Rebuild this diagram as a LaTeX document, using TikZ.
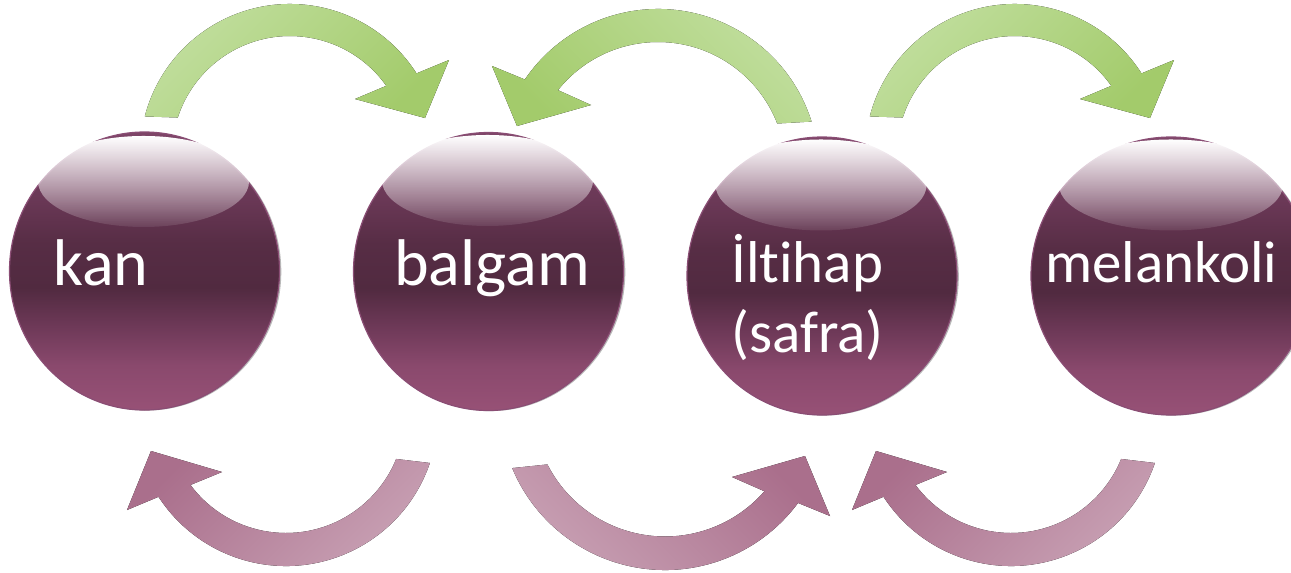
\documentclass[tikz,border=0pt]{standalone}
\usepackage{fontspec}
\setmainfont{Carlito}[Ligatures={NoCommon,NoRare,NoDiscretionary}]
\usetikzlibrary{shapes.geometric,calc,fadings}

\definecolor{sphB}{HTML}{975176}
\definecolor{sphBb}{HTML}{8A496D}
\definecolor{sphMa}{HTML}{6E3958}
\definecolor{sphD}{HTML}{512A40}
\definecolor{sphMb}{HTML}{572D45}
\definecolor{sphTb}{HTML}{6A3856}
\definecolor{sphT}{HTML}{7E4568}
\definecolor{sphEdge}{HTML}{8A4D74}
\definecolor{gLight}{HTML}{C2DFA0}
\definecolor{gDark}{HTML}{A3CB6B}
\definecolor{pDark}{HTML}{AA6F8C}
\definecolor{pLight}{HTML}{C9A2B5}

\pgfdeclareverticalshading{sphshade}{100bp}{color(0bp)=(sphB); color(25bp)=(sphB); color(33bp)=(sphBb); color(40bp)=(sphMa); color(47bp)=(sphD); color(55bp)=(sphMb); color(63bp)=(sphTb); color(75bp)=(sphT); color(100bp)=(sphT)}

\tikzfading[name=hlfade, top color=transparent!0, middle color=transparent!45, bottom color=transparent!92]

\begin{document}
\begin{tikzpicture}[x=1pt,y=1pt,
  sphere/.style={ellipse, minimum width=270pt, minimum height=278pt, inner sep=0pt,
    shade, shading=sphshade, draw=sphEdge, line width=1.2pt},
  sphshadow/.style={fill=gray!55},
  gloss/.style={fill=white, path fading=hlfade},
  lbl/.style={text=white, inner sep=0pt, anchor=base west, font=\fontsize{66}{70}\selectfont},
  lblsmall/.style={lbl, font=\fontsize{59}{64}\selectfont},
  garrowA/.style={top color=gLight, bottom color=gDark, shading angle=45, draw=none},
  garrowB/.style={top color=gLight, bottom color=gDark, shading angle=-45, draw=none},
  parrowA/.style={top color=pDark, bottom color=pLight, shading angle=45, draw=none},
  parrowB/.style={top color=pDark, bottom color=pLight, shading angle=-45, draw=none}]

\path[use as bounding box, clip] (0,0) rectangle (1291,-573);

% ---------- spheres ----------
\foreach \cx/\cy/\w in {144.5/-271/270, 488.5/-271.5/270, 822/-276/270, 1171/-276/280}{
  \fill[sphshadow] (\cx+1.8,\cy-0.6) ellipse[x radius=\w/2, y radius=139];
}
\node[sphere] (kan) at (144.5,-271) {};
\node[sphere] (balgam) at (488.5,-271.5) {};
\node[sphere] (iltihap) at (822,-276) {};
\node[sphere, minimum width=280pt] (melankoli) at (1171,-276) {};

\fill[gloss] ($(kan.center)+(-1,89.5)$) ellipse[x radius=105.5, y radius=45.5];
\fill[gloss] ($(balgam.center)+(-1,91)$) ellipse[x radius=105.5, y radius=45.5];
\fill[gloss] ($(iltihap.center)+(-1,91)$) ellipse[x radius=105.5, y radius=45.5];
\fill[gloss] ($(melankoli.center)+(0,91)$) ellipse[x radius=112, y radius=45.5];

% ---------- labels ----------
\node[lbl] (tkan) at (53,-285) {kan};
\node[lbl] (tbalgam) at (394,-285) {balgam};
\node[lblsmall] (tilt) at (731,-282) {İltihap};
\node[lblsmall] (tsafra) at (731,-352) {(safra)};
\node[lblsmall, font=\fontsize{59}{64}\selectfont] (tmel) at (1045,-282) {melankoli};

% ---------- arrow centres ----------
\coordinate (g1c) at (290,-154);
\coordinate (g2c) at (658,-170);
\coordinate (g3c) at (1015,-154);
\coordinate (p1c) at (286,-414);
\coordinate (p2c) at (665,-404.5);
\coordinate (p3c) at (1011,-414);

% green top arrows
\fill[garrowA] ($(g1c)+(165.5:150)$) arc[start angle=165.5, end angle=32.5, radius=150]
  -- (449,-60) -- (425,-118) -- (355,-99)
  -- ($(g1c)+(35.3:118)$) arc[start angle=35.3, end angle=162, radius=118] -- cycle;

\fill[garrowB] ($(g2c)+(17.5:161)$) arc[start angle=17.5, end angle=145.8, radius=161]
  -- (492,-66) -- (517,-126) -- (591,-105)
  -- ($(g2c)+(141.4:128)$) arc[start angle=141.4, end angle=21.3, radius=128] -- cycle;

\fill[garrowA] ($(g3c)+(165.5:150)$) arc[start angle=165.5, end angle=32.5, radius=150]
  -- (1174,-60) -- (1150,-118) -- (1080,-99)
  -- ($(g3c)+(35.3:118)$) arc[start angle=35.3, end angle=162, radius=118] -- cycle;

% purple bottom arrows
\fill[parrowA] ($(p1c)+(-18.8:152)$) arc[start angle=-18.8, end angle=-147, radius=152]
  -- (127,-510) -- (151,-451) -- (222,-472)
  -- ($(p1c)+(-143.4:119)$) arc[start angle=-143.4, end angle=-22.2, radius=119] -- cycle;

\fill[parrowB] ($(p2c)+(-157.4:165.5)$) arc[start angle=-157.4, end angle=-36.5, radius=165.5]
  -- (830,-516) -- (805,-456) -- (732,-477)
  -- ($(p2c)+(-41.1:132)$) arc[start angle=-41.1, end angle=-153, radius=132] -- cycle;

\fill[parrowA] ($(p3c)+(-18.8:152)$) arc[start angle=-18.8, end angle=-147, radius=152]
  -- (852,-510) -- (876,-451) -- (947,-472)
  -- ($(p3c)+(-143.4:119)$) arc[start angle=-143.4, end angle=-22.2, radius=119] -- cycle;
\end{tikzpicture}
\end{document}
